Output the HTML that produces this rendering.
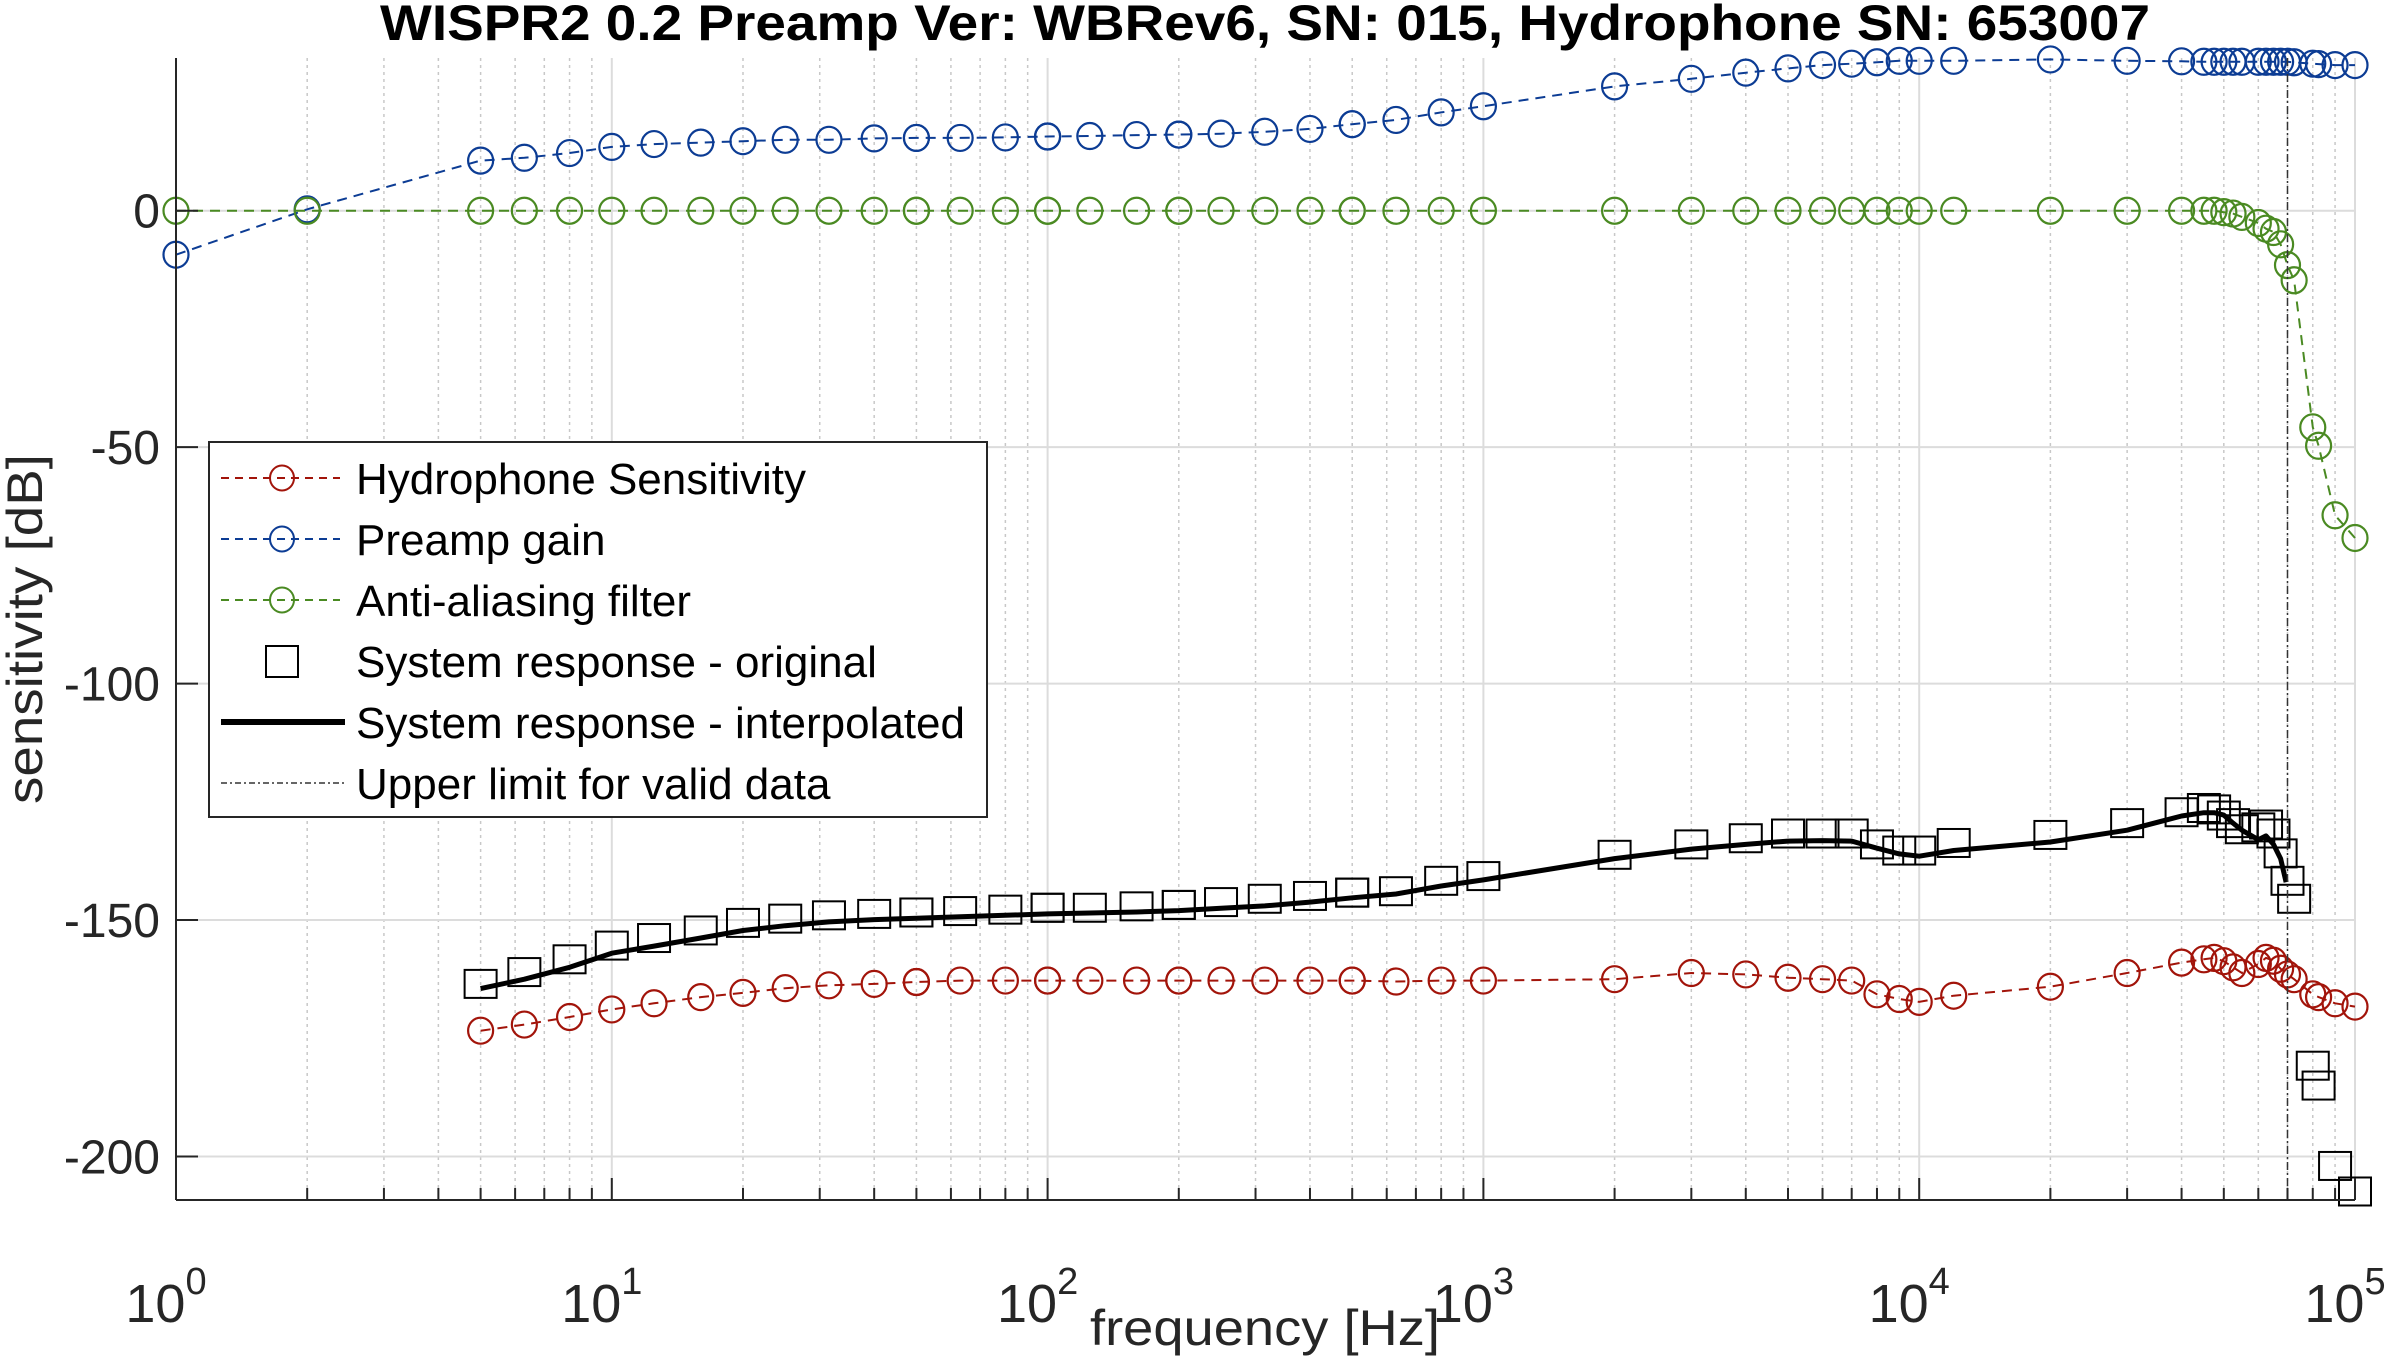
<!DOCTYPE html>
<html><head><meta charset="utf-8"><style>
html,body{margin:0;padding:0;background:#fff;}
svg{display:block;font-family:"Liberation Sans",Arial,sans-serif;}
</style></head><body>
<svg id="chart" width="2394" height="1360" viewBox="0 0 2394 1360" xmlns="http://www.w3.org/2000/svg">
<rect x="0" y="0" width="2394" height="1360" fill="#fff"/>
<g id="grid"></g>
<g id="series"></g>
<g id="axes"></g>
<text x="1265" y="40" text-anchor="middle" font-size="50" font-weight="bold" textLength="1770" lengthAdjust="spacingAndGlyphs" fill="#000">WISPR2 0.2 Preamp Ver: WBRev6, SN: 015, Hydrophone SN: 653007</text>
<text x="1265" y="1345" text-anchor="middle" font-size="50" fill="#262626" textLength="350" lengthAdjust="spacingAndGlyphs">frequency [Hz]</text>
<text transform="translate(42,629) rotate(-90)" text-anchor="middle" font-size="50" fill="#262626" textLength="350" lengthAdjust="spacingAndGlyphs">sensitivity [dB]</text>
<g id="legend"></g>
</svg>
<script>
const freqs = [1,2,5,6.3,8,10,12.5,16,20,25,31.5,40,50,50,63,80,100,100,125,160,200,200,250,315,400,500,500,630,800,1000,2000,3000,4000,5000,6000,7000,8000,9000,10000,12000,20000,30000,40000,45000,47500,50000,52500,55000,60000,62500,65000,67500,70000,72500,80000,82500,90000,100000];
const preampGain = [-9.3,0.3,10.6,11.2,12.2,13.5,14.1,14.4,14.7,15,15,15.3,15.4,15.4,15.4,15.5,15.7,15.7,15.8,16,16.1,16.1,16.3,16.7,17.3,18.3,18.3,19.2,20.8,22.1,26.3,27.9,29.2,30.1,30.8,31.1,31.4,31.7,31.7,31.7,32,31.7,31.6,31.5,31.5,31.5,31.5,31.5,31.5,31.5,31.5,31.5,31.5,31.4,31.1,31,30.8,30.8];
const antiAlias = [0,0,0,0,0,0,0,0,0,0,0,0,0,0,0,0,0,0,0,0,0,0,0,0,0,0,0,0,0,0,0,0,0,0,0,0,0,0,0,0,0,0,0,0,0,-0.3,-0.6,-1.3,-2.6,-3.8,-4.5,-7.1,-11.5,-14.7,-45.8,-49.7,-64.4,-69.2];
const hydroSens = [null,null,-173.4,-172.1,-170.5,-168.9,-167.6,-166.3,-165.4,-164.4,-163.8,-163.5,-163.1,-163.1,-162.8,-162.8,-162.8,-162.8,-162.8,-162.8,-162.8,-162.8,-162.8,-162.8,-162.8,-162.8,-162.8,-163,-162.8,-162.8,-162.5,-161.2,-161.5,-162.2,-162.5,-162.8,-165.7,-166.7,-167.3,-166,-164.1,-161.2,-159,-158.3,-158,-158.7,-160,-161.2,-159.3,-158,-158.6,-160.3,-161.5,-162.5,-165.7,-166.3,-167.6,-168.3];
const sysOriginal = [null,null,-163.5,-161,-158.3,-155.4,-153.8,-152.2,-150.6,-149.7,-149,-148.7,-148.4,-148.4,-148.1,-147.8,-147.4,-147.4,-147.4,-147.1,-146.8,-146.8,-146.2,-145.5,-144.9,-144.2,-144.2,-143.9,-141.7,-140.7,-136.2,-134,-132.7,-131.7,-131.7,-131.7,-134,-135.3,-135.3,-133.7,-132,-129.5,-127.2,-126.3,-126.6,-127.9,-129.5,-130.8,-130.4,-129.8,-131.7,-135.9,-141.7,-145.5,-180.8,-185,-202,-207.4];
const interpFreqs = [5,6.3,8,10,12.5,16,20,25,31.5,40,50,63,80,100,125,160,200,250,315,400,500,630,800,1000,2000,3000,4000,5000,6000,7000,8000,9000,10000,12000,20000,30000,40000,45000,47500,50000,52500,55000,60000,62500,65000,67500,69500];
const interpValues = [-164.5,-162.5,-160,-157,-155.5,-153.8,-152.2,-151.2,-150.4,-149.9,-149.6,-149.3,-149,-148.7,-148.5,-148.3,-148,-147.5,-147,-146.2,-145.3,-144.5,-142.8,-141.5,-137,-135,-134,-133.3,-133.2,-133.3,-134.8,-136,-136.5,-135.3,-133.5,-131,-128,-127.3,-127.3,-127.8,-129.5,-131,-133,-132.2,-134,-137,-142];
const upperLimitHz = 70000;
const yTicks = [0,-50,-100,-150,-200];
const xTickExps = [0,1,2,3,4,5];

const NS="http://www.w3.org/2000/svg";
const X0=176, X1=2355, Y0=1200, Y1=58;
const LOGMIN=0, LOGMAX=5, YMIN=-209.2, YMAX=32.3;
function xs(f){return X0+(Math.log10(f)-LOGMIN)/(LOGMAX-LOGMIN)*(X1-X0);}
function ys(v){return Y0-(v-YMIN)/(YMAX-YMIN)*(Y0-Y1);}
function mk(tag,attrs,parent){const e=document.createElementNS(NS,tag);for(const k in attrs)e.setAttribute(k,attrs[k]);parent.appendChild(e);return e;}

const grid=document.getElementById('grid');
const axes=document.getElementById('axes');
const series=document.getElementById('series');
const legend=document.getElementById('legend');

for(let d=0; d<5; d++){
  for(let m=2;m<=9;m++){
    const x=xs(m*Math.pow(10,d));
    const l=mk('line',{x1:x,x2:x,y1:Y1,y2:Y0,stroke:'#c8c8c8','stroke-width':1.5,'stroke-dasharray':'3,4'},grid);
    
    
    const t=mk('line',{x1:x,x2:x,y1:Y0,y2:Y0-12,stroke:'#262626','stroke-width':2},axes);
    
    
  }
}
xTickExps.forEach(e=>{
  const x=xs(Math.pow(10,e));
  const l=mk('line',{x1:x,x2:x,y1:Y1,y2:Y0,stroke:'#dcdcdc','stroke-width':2},grid);
  
  
  const t=mk('line',{x1:x,x2:x,y1:Y0,y2:Y0-22,stroke:'#262626','stroke-width':2},axes);
  
  
  const tx=mk('text',{x:x-10,y:1322,'text-anchor':'middle','font-size':54,fill:'#262626'},axes);
  
  
  tx.textContent='10';
  const sp=mk('tspan',{dy:-28,'font-size':38},tx);
  sp.textContent=String(e);
});
yTicks.forEach(v=>{
  const y=ys(v);
  const l=mk('line',{x1:X0,x2:X1,y1:y,y2:y,stroke:'#dcdcdc','stroke-width':2},grid);
  
  
  const t=mk('line',{x1:X0,x2:X0+22,y1:y,y2:y,stroke:'#262626','stroke-width':2},axes);
  
  
  const tx=mk('text',{x:160,y:y+17,'text-anchor':'end','font-size':48,fill:'#262626'},axes);
  
  
  tx.textContent=String(v);
});
const ax1=mk('line',{x1:X0,x2:X0,y1:Y1,y2:Y0,stroke:'#262626','stroke-width':2},axes);


const ax2=mk('line',{x1:X0,x2:X1,y1:Y0,y2:Y0,stroke:'#262626','stroke-width':2},axes);



function circleSeries(fs,vals,color,name){
  const g=mk('g',{},series);
  
  
  let pts=[];
  fs.forEach((f,i)=>{if(vals[i]!==null)pts.push(xs(f).toFixed(1)+','+ys(vals[i]).toFixed(1));});
  const pl=mk('polyline',{points:pts.join(' '),fill:'none',stroke:color,'stroke-width':2,'stroke-dasharray':'10,7'},g);
  
  
  fs.forEach((f,i)=>{
    if(vals[i]===null)return;
    const c=mk('ellipse',{cx:xs(f),cy:ys(vals[i]),rx:12.5,ry:13,fill:'none',stroke:color,'stroke-width':2.2},g);
    
    
  });
}
circleSeries(freqs,hydroSens,'#a2140a','hydrophone-sensitivity');
circleSeries(freqs,preampGain,'#0c3c94','preamp-gain');
circleSeries(freqs,antiAlias,'#4a8a22','anti-aliasing-filter');

const sg=mk('g',{},series);


freqs.forEach((f,i)=>{
  if(sysOriginal[i]===null)return;
  const r=mk('rect',{x:xs(f)-16,y:ys(sysOriginal[i])-14,width:32,height:28,fill:'none',stroke:'#000','stroke-width':2},sg);
  
  
});
const ip=mk('polyline',{points:interpFreqs.map((f,i)=>xs(f).toFixed(1)+','+ys(interpValues[i]).toFixed(1)).join(' '),fill:'none',stroke:'#000','stroke-width':5,'stroke-linejoin':'round'},series);


const ul=mk('line',{x1:xs(upperLimitHz),x2:xs(upperLimitHz),y1:Y1,y2:Y0,stroke:'#333','stroke-width':1.5,'stroke-dasharray':'8,3,2,3'},series);



const lb=mk('rect',{x:209,y:442,width:778,height:375,fill:'#fff',stroke:'#262626','stroke-width':2},legend);


const entries=[
  ['Hydrophone Sensitivity','#a2140a','circle'],
  ['Preamp gain','#0c3c94','circle'],
  ['Anti-aliasing filter','#4a8a22','circle'],
  ['System response - original','#000','square'],
  ['System response - interpolated','#000','thick'],
  ['Upper limit for valid data','#333','dashdot']
];
entries.forEach((e,i)=>{
  const y=478+i*61;
  const g=mk('g',{},legend);
  
  
  if(e[2]==='circle'){
    mk('line',{x1:221,x2:340,y1:y,y2:y,stroke:e[1],'stroke-width':2,'stroke-dasharray':'8,6'},g);
    mk('ellipse',{cx:282,cy:y,rx:12,ry:12.5,fill:'none',stroke:e[1],'stroke-width':2},g);
  }else if(e[2]==='square'){
    mk('rect',{x:266,y:y-15,width:32,height:31,fill:'none',stroke:'#000','stroke-width':2},g);
  }else if(e[2]==='thick'){
    mk('line',{x1:221,x2:345,y1:y,y2:y,stroke:'#000','stroke-width':6},g);
  }else{
    mk('line',{x1:221,x2:345,y1:y,y2:y,stroke:e[1],'stroke-width':1.5,'stroke-dasharray':'6,3,2,3'},g);
  }
  const t=mk('text',{x:356,y:y+16,'font-size':44,fill:'#000'},g);
  
  
  t.textContent=e[0];
});
</script>
</body></html>
